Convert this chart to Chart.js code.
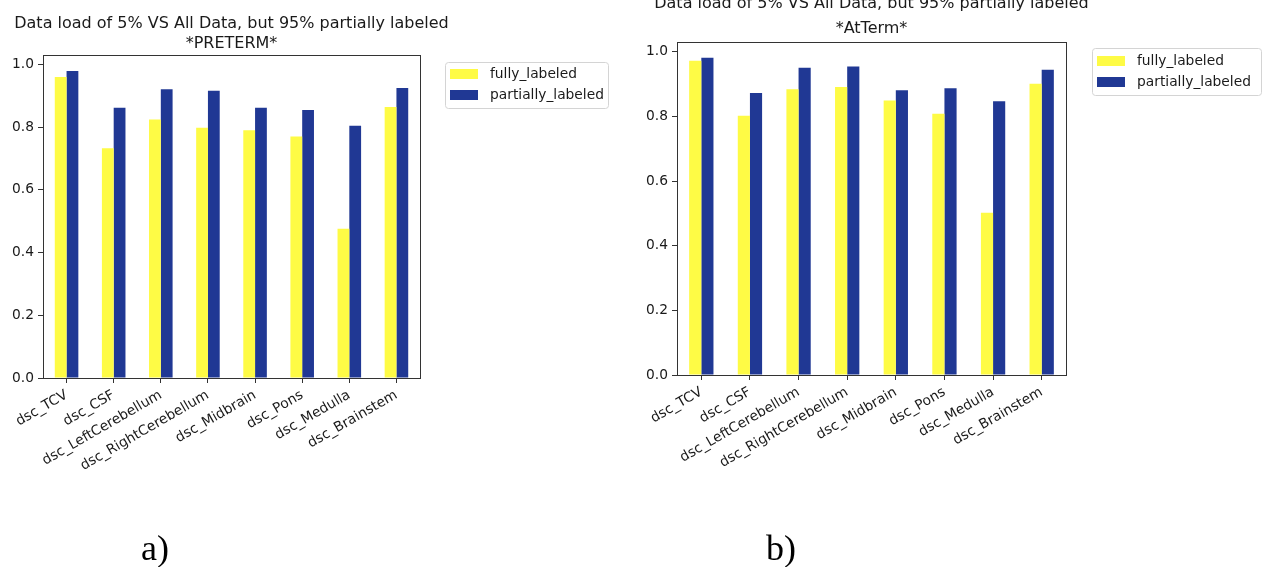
<!DOCTYPE html>
<html>
<head>
<meta charset="utf-8">
<script src="https://cdn.jsdelivr.net/npm/chart.js@4/dist/chart.umd.min.js"></script>
<style>
  html, body { margin: 0; padding: 0; background: #fff; }
  body { width: 1267px; height: 567px; position: relative; overflow: hidden; }
  canvas { position: absolute; top: 0; }
  #cvA { left: 0; }
  #cvB { left: 633px; }
  .panel { position: absolute; top: 530px; font-family: "Liberation Serif", "Times New Roman", serif;
           font-size: 36px; line-height: 36px; color: #000; }
</style>
</head>
<body>
<canvas id="cvA" width="633" height="567"></canvas>
<canvas id="cvB" width="634" height="567"></canvas>
<div class="panel" style="left:141px">a)</div>
<div class="panel" style="left:766px">b)</div>
<script>
// Dice scores per structure
const categories = ['dsc_TCV', 'dsc_CSF', 'dsc_LeftCerebellum', 'dsc_RightCerebellum',
                    'dsc_Midbrain', 'dsc_Pons', 'dsc_Medulla', 'dsc_Brainstem'];
const seriesNames = ['fully_labeled', 'partially_labeled'];

const pretermFully   = [0.960, 0.733, 0.824, 0.798, 0.790, 0.770, 0.476, 0.864];
const pretermPartial = [0.979, 0.862, 0.921, 0.916, 0.862, 0.855, 0.804, 0.925];

const attermFully    = [0.972, 0.802, 0.884, 0.891, 0.849, 0.808, 0.502, 0.901];
const attermPartial  = [0.981, 0.872, 0.950, 0.954, 0.881, 0.887, 0.847, 0.944];

const yTickValues = [0.0, 0.2, 0.4, 0.6, 0.8, 1.0];

const titleLine1 = 'Data load of 5% VS All Data, but 95% partially labeled';
const titlePreterm = '*PRETERM*';
const titleAtterm = '*AtTerm*';

const COLORS = ['#fefb45', '#203894'];
const FONT = '"DejaVu Sans", "Liberation Sans", sans-serif';
const TEXT = '#1a1a1a';
const FRAME = '#333';

// Frame, two-line title and an outside legend box
const decorations = {
  id: 'decorations',
  afterDraw(chart, args, opts) {
    const ctx = chart.ctx;
    const a = chart.chartArea;
    ctx.save();
    ctx.strokeStyle = FRAME;
    ctx.lineWidth = 1;
    ctx.strokeRect(Math.round(a.left) + 0.5, Math.round(a.top) + 0.5,
                   Math.round(a.right - a.left), Math.round(a.bottom - a.top));

    ctx.fillStyle = TEXT;
    ctx.font = '16px ' + FONT;
    ctx.textAlign = 'center';
    ctx.textBaseline = 'alphabetic';
    const cx = (a.left + a.right) / 2;
    opts.titles.forEach((t, i) => ctx.fillText(t, cx, opts.titleBaselines[i]));

    // legend
    const L = opts.legend;
    ctx.beginPath();
    const r = 3;
    const x0 = L.x + 0.5, y0 = L.y + 0.5, w = L.w, h = L.h;
    ctx.moveTo(x0 + r, y0);
    ctx.arcTo(x0 + w, y0, x0 + w, y0 + h, r);
    ctx.arcTo(x0 + w, y0 + h, x0, y0 + h, r);
    ctx.arcTo(x0, y0 + h, x0, y0, r);
    ctx.arcTo(x0, y0, x0 + w, y0, r);
    ctx.closePath();
    ctx.fillStyle = 'rgba(255,255,255,0.8)';
    ctx.fill();
    ctx.strokeStyle = '#d4d4d4';
    ctx.stroke();

    ctx.font = '13.8px ' + FONT;
    ctx.textAlign = 'left';
    ctx.textBaseline = 'middle';
    chart.data.datasets.forEach((ds, i) => {
      const yc = L.y + L.firstRow + i * L.rowGap;
      ctx.fillStyle = ds.backgroundColor;
      ctx.fillRect(L.x + 5, yc - 5, 28, 10);
      ctx.fillStyle = TEXT;
      ctx.fillText(ds.label, L.x + 45, yc + 0.5);
    });
    ctx.restore();
  }
};

function makeChart(id, fully, partial, cfg) {
  return new Chart(document.getElementById(id), {
    type: 'bar',
    data: {
      labels: categories,
      datasets: [
        { label: seriesNames[0], data: fully, backgroundColor: COLORS[0] },
        { label: seriesNames[1], data: partial, backgroundColor: COLORS[1] }
      ]
    },
    options: {
      responsive: false,
      devicePixelRatio: 1,
      animation: false,
      events: [],
      layout: { padding: { top: cfg.top, right: cfg.right, left: 0, bottom: 0 } },
      datasets: { bar: { categoryPercentage: 0.5, barPercentage: 1.0, borderWidth: 0 } },
      plugins: {
        legend: { display: false },
        title: { display: false },
        tooltip: { enabled: false },
        decorations: cfg.deco
      },
      scales: {
        x: {
          border: { display: false },
          grid: { offset: false, drawOnChartArea: false, drawTicks: true, tickLength: 5, color: FRAME },
          ticks: {
            autoSkip: false, minRotation: 30, maxRotation: 30, padding: 4,
            color: TEXT, font: { family: FONT, size: 13.8 }
          },
          afterFit(scale) { scale.height = cfg.xHeight; }
        },
        y: {
          min: 0, max: 1.03,
          border: { display: false },
          grid: { drawOnChartArea: false, drawTicks: true, tickLength: 5, color: FRAME },
          ticks: {
            padding: 4, color: TEXT, font: { family: FONT, size: 13.8 },
            callback: v => Number(v).toFixed(1)
          },
          afterBuildTicks(scale) { scale.ticks = yTickValues.map(v => ({ value: v })); },
          afterFit(scale) { scale.width = cfg.yWidth; }
        }
      }
    },
    plugins: [decorations]
  });
}

makeChart('cvA', pretermFully, pretermPartial, {
  top: 55, right: 213, xHeight: 189, yWidth: 43,
  deco: {
    titles: [titleLine1, titlePreterm], titleBaselines: [28, 48],
    legend: { x: 445, y: 62, w: 163, h: 46, firstRow: 12, rowGap: 21 }
  }
});

makeChart('cvB', attermFully, attermPartial, {
  top: 42, right: 201, xHeight: 192, yWidth: 44,
  deco: {
    titles: [titleLine1, titleAtterm], titleBaselines: [8, 33],
    legend: { x: 1092 - 633, y: 48, w: 169, h: 47, firstRow: 13, rowGap: 21 }
  }
});
</script>
</body>
</html>
